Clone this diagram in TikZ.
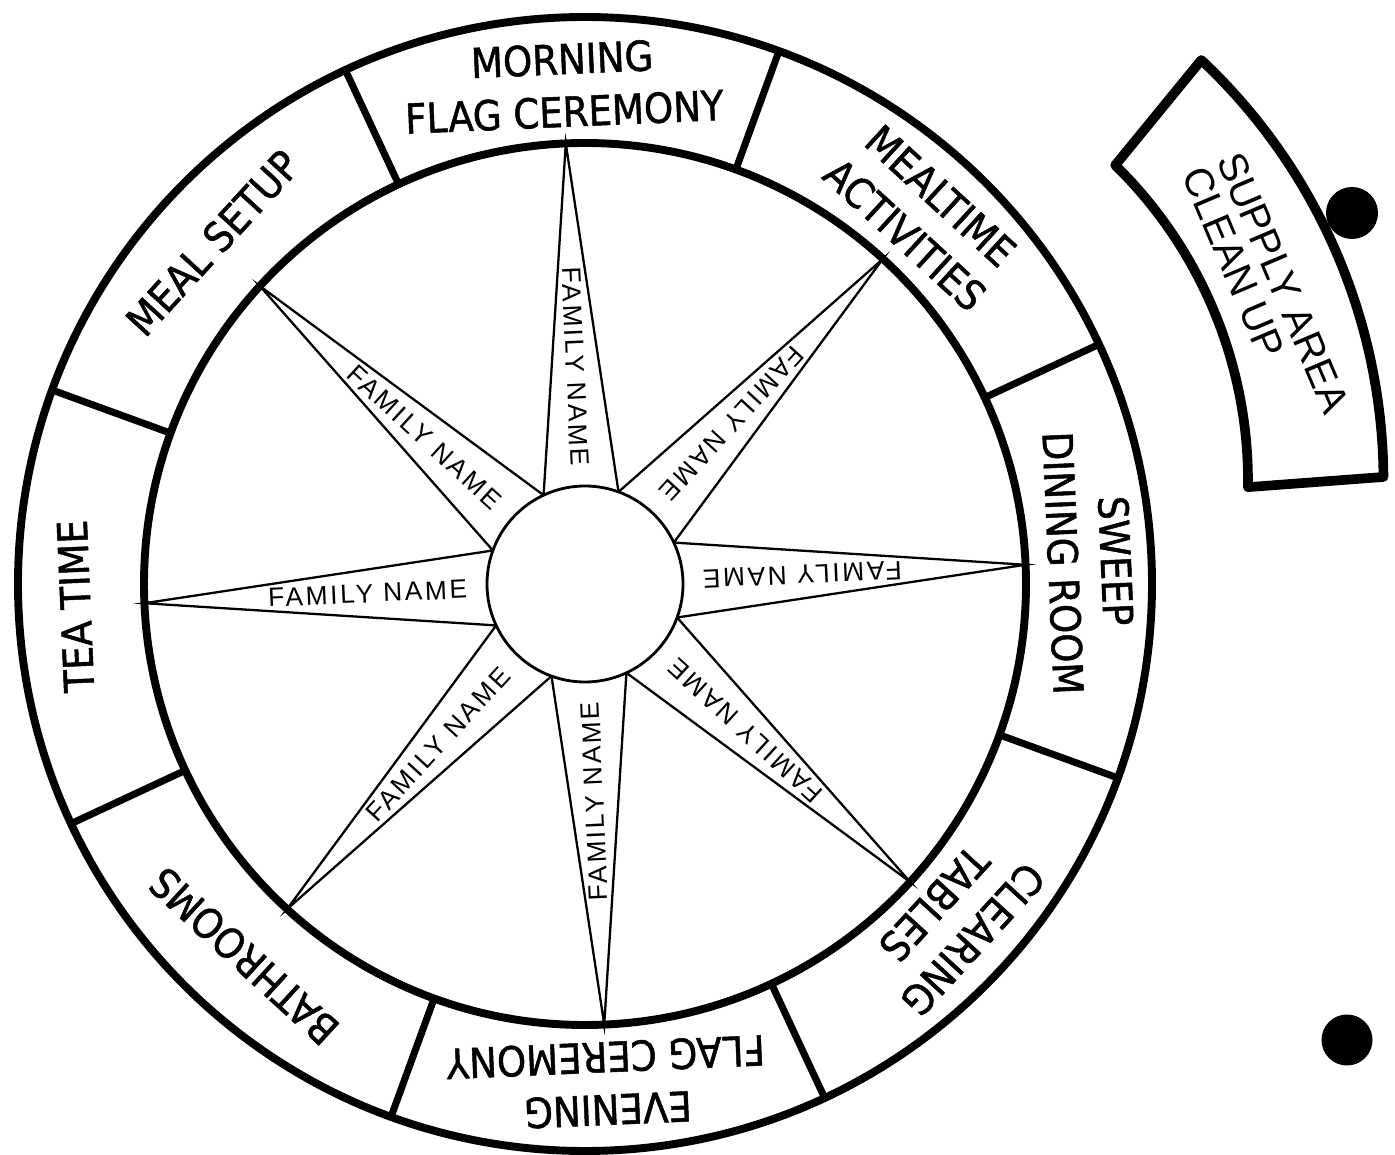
\documentclass[tikz,border=0pt]{standalone}
\usepackage{fontspec}
\setmainfont{Liberation Sans}
\newfontfamily\rimfont[FakeBold=1.2]{DejaVu Sans Condensed}
\newfontfamily\namefont[LetterSpace=10]{Liberation Sans}
\tikzset{
  rim/.style={line width=4.5pt, draw=black},
  divider/.style={line width=4pt, draw=black, line cap=butt},
  starline/.style={line width=1.3pt, draw=black, line join=miter},
  hub/.style={line width=1.6pt, draw=black, fill=white},
  chore/.style={font=\rimfont\fontsize{23.5}{30}\selectfont, align=center, inner sep=0pt},
  familyname/.style={font=\namefont\fontsize{15}{18}\selectfont, inner sep=0pt},
  supplyband/.style={line width=5.5pt, draw=black, line join=round},
  supplylabel/.style={font=\fontsize{23}{21.5}\selectfont, align=left, inner sep=0pt},
  punch/.style={fill=black},
}
\begin{document}
\begin{tikzpicture}
\useasboundingbox (0,0) rectangle (27.9,23.08);
\begin{scope}[shift={(11.70,11.40)}]
\draw[rim] (0,0) circle (11.34);
\draw[rim] (0,0) circle (8.82);
\draw[divider] (25:8.82) -- (25:11.34);
\draw[divider] (70:8.82) -- (70:11.34);
\draw[divider] (115:8.82) -- (115:11.34);
\draw[divider] (160:8.82) -- (160:11.34);
\draw[divider] (205:8.82) -- (205:11.34);
\draw[divider] (250:8.82) -- (250:11.34);
\draw[divider] (295:8.82) -- (295:11.34);
\draw[divider] (340:8.82) -- (340:11.34);
\draw[starline] (92.5:8.82) -- (70:1.96) -- (47.5:8.82) -- (25:1.96) -- (2.5:8.82) -- (-20:1.96)
  -- (-42.5:8.82) -- (-65:1.96) -- (-87.5:8.82) -- (-110:1.96) -- (-132.5:8.82) -- (-155:1.96)
  -- (-177.5:8.82) -- (-200:1.96) -- (137.5:8.82) -- (115:1.96) -- cycle;
\draw[hub] (0,0) circle (1.96);
\node[chore, rotate=2.5] (morning) at (92.5:9.98) {MORNING\\FLAG CEREMONY};
\node[chore, rotate=-42.5] (mealtime) at (47.5:10.0) {MEALTIME\\ACTIVITIES};
\node[chore, rotate=-87.5] (sweep) at (2.5:10.1) {SWEEP\\DINING ROOM};
\node[chore, rotate=-132.5] (clearing) at (-42.5:10.0) {CLEARING\\TABLES};
\node[chore, rotate=-177.5] (evening) at (-87.5:10.0) {EVENING\\FLAG CEREMONY};
\node[chore, rotate=137.5] (bathrooms) at (-132.5:10.1) {BATHROOMS};
\node[chore, rotate=92.5] (teatime) at (182.5:10.2) {TEA TIME};
\node[chore, rotate=47.5] (mealsetup) at (137.5:10.1) {MEAL SETUP};
\node[familyname, rotate=-87.5] (fam1) at (92.5:4.35) {FAMILY NAME};
\node[familyname, rotate=-132.5] (fam2) at (47.5:4.35) {FAMILY NAME};
\node[familyname, rotate=-177.5] (fam3) at (2.5:4.35) {FAMILY NAME};
\node[familyname, rotate=137.5] (fam4) at (-42.5:4.35) {FAMILY NAME};
\node[familyname, rotate=92.5] (fam5) at (-87.5:4.35) {FAMILY NAME};
\node[familyname, rotate=47.5] (fam6) at (-132.5:4.35) {FAMILY NAME};
\node[familyname, rotate=2.5] (fam7) at (182.5:4.35) {FAMILY NAME};
\node[familyname, rotate=-42.5] (fam8) at (137.5:4.35) {FAMILY NAME};
\end{scope}
\begin{scope}[shift={(16.12,13.46)}]
\draw[supplyband] (-0.8:8.84) -- (0.4:11.55) arc[start angle=0.4, end angle=46.8, radius=11.55]
  -- (45.6:8.84) arc[start angle=45.6, end angle=-0.8, radius=8.84] -- cycle;
\end{scope}
\node[supplylabel, rotate=-67] (supply) at (25.32,17.28) {SUPPLY AREA\\CLEAN UP};
\fill[punch] (27.04,18.82) circle (0.52);
\fill[punch] (26.94,2.28) circle (0.51);
\end{tikzpicture}
\end{document}
